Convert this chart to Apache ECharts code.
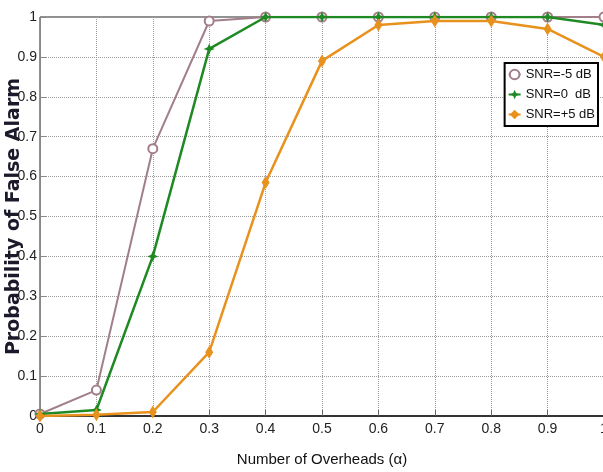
<!DOCTYPE html>
<html>
<head>
<meta charset="utf-8">
<script src="https://cdn.jsdelivr.net/npm/echarts@6/dist/echarts.min.js"></script>
<style>
html,body{margin:0;padding:0;background:#fff;}
#chart{width:603px;height:472px;}
</style>
</head>
<body>
<div id="chart"></div>
<script>
const overheads = [0, 0.1, 0.2, 0.3, 0.4, 0.5, 0.6, 0.7, 0.8, 0.9, 1.0];
const snrMinus5 = [0.005, 0.065, 0.67, 0.99, 1.0, 1.0, 1.0, 1.0, 1.0, 1.0, 1.0];
const snr0 = [0.005, 0.015, 0.40, 0.92, 1.0, 1.0, 1.0, 1.0, 1.0, 1.0, 0.98];
const snrPlus5 = [0.0, 0.003, 0.01, 0.16, 0.585, 0.89, 0.98, 0.99, 0.99, 0.97, 0.90];
const seriesNames = ['SNR=-5 dB', 'SNR=0  dB', 'SNR=+5 dB'];
const xTickLabels = ['0', '0.1', '0.2', '0.3', '0.4', '0.5', '0.6', '0.7', '0.8', '0.9', '1'];
const yTickLabels = ['0', '0.1', '0.2', '0.3', '0.4', '0.5', '0.6', '0.7', '0.8', '0.9', '1'];

const pairs = vals => overheads.map((x, i) => [x, vals[i]]);
const narrow = '"Liberation Sans Narrow", "Liberation Sans", Arial, sans-serif';

const chart = echarts.init(document.getElementById('chart'), null, {renderer: 'canvas'});
chart.setOption({
  animation: false,
  backgroundColor: '#fff',
  grid: {left: 40, right: -1, top: 17, bottom: 56, show: true, borderColor: '#222', borderWidth: 1,
    containLabel: false, outerBoundsMode: 'none'},
  legend: {
    orient: 'vertical', right: 5, top: 63,
    borderColor: '#000', borderWidth: 2, padding: [5, 3, 5, 3],
    backgroundColor: '#fff',
    itemGap: 7, itemWidth: 12, itemHeight: 12,
    textStyle: {fontFamily: narrow, fontSize: 13, color: '#111'},
    data: seriesNames
  },
  xAxis: {
    type: 'value', min: 0, max: 1, interval: 0.1,
    name: 'Number of Overheads (\u03b1)', nameLocation: 'middle', nameGap: 36, nameMoveOverlap: false,
    nameTextStyle: {fontFamily: narrow, fontSize: 15, color: '#111'},
    axisLine: {lineStyle: {color: '#333', width: 2}},
    axisTick: {inside: true, length: 6, lineStyle: {color: '#666'}},
    axisLabel: {fontFamily: narrow, fontSize: 14, color: '#222', margin: 6,
      formatter: (v) => xTickLabels[Math.round(v * 10)]},
    splitLine: {show: true, lineStyle: {type: 'dotted', color: '#999'}}
  },
  yAxis: {
    type: 'value', min: 0, max: 1, interval: 0.1,
    name: 'Probability of False Alarm', nameLocation: 'middle', nameGap: 16, nameMoveOverlap: false,
    nameTextStyle: {fontFamily: '"DejaVu Sans", sans-serif', fontWeight: 'bold', fontSize: 19, color: '#1a1a2a'},
    axisLine: {lineStyle: {color: '#888', width: 1}},
    axisTick: {inside: true, length: 6, lineStyle: {color: '#888'}},
    axisLabel: {fontFamily: narrow, fontSize: 14, color: '#222', margin: 3,
      formatter: (v) => yTickLabels[Math.round(v * 10)]},
    splitLine: {show: true, lineStyle: {type: 'dotted', color: '#999'}}
  },
  series: [
    {
      name: seriesNames[0], type: 'line', data: pairs(snrMinus5),
      symbol: 'emptyCircle', symbolSize: 9, z: 2,
      itemStyle: {color: '#a27f88', borderWidth: 1.5},
      lineStyle: {color: '#a27f88', width: 2}
    },
    {
      name: seriesNames[1], type: 'line', data: pairs(snr0),
      symbol: 'path://M0,-1L0.3,-0.3L1,0L0.3,0.3L0,1L-0.3,0.3L-1,0L-0.3,-0.3Z', symbolSize: 11, z: 3,
      itemStyle: {color: '#1f8a24'},
      lineStyle: {color: '#1f8a24', width: 2.5}
    },
    {
      name: seriesNames[2], type: 'line', data: pairs(snrPlus5),
      symbol: 'diamond', symbolSize: [8, 13], z: 4,
      itemStyle: {color: '#e8911c'},
      lineStyle: {color: '#e8911c', width: 2.5}
    }
  ]
});
</script>
</body>
</html>
